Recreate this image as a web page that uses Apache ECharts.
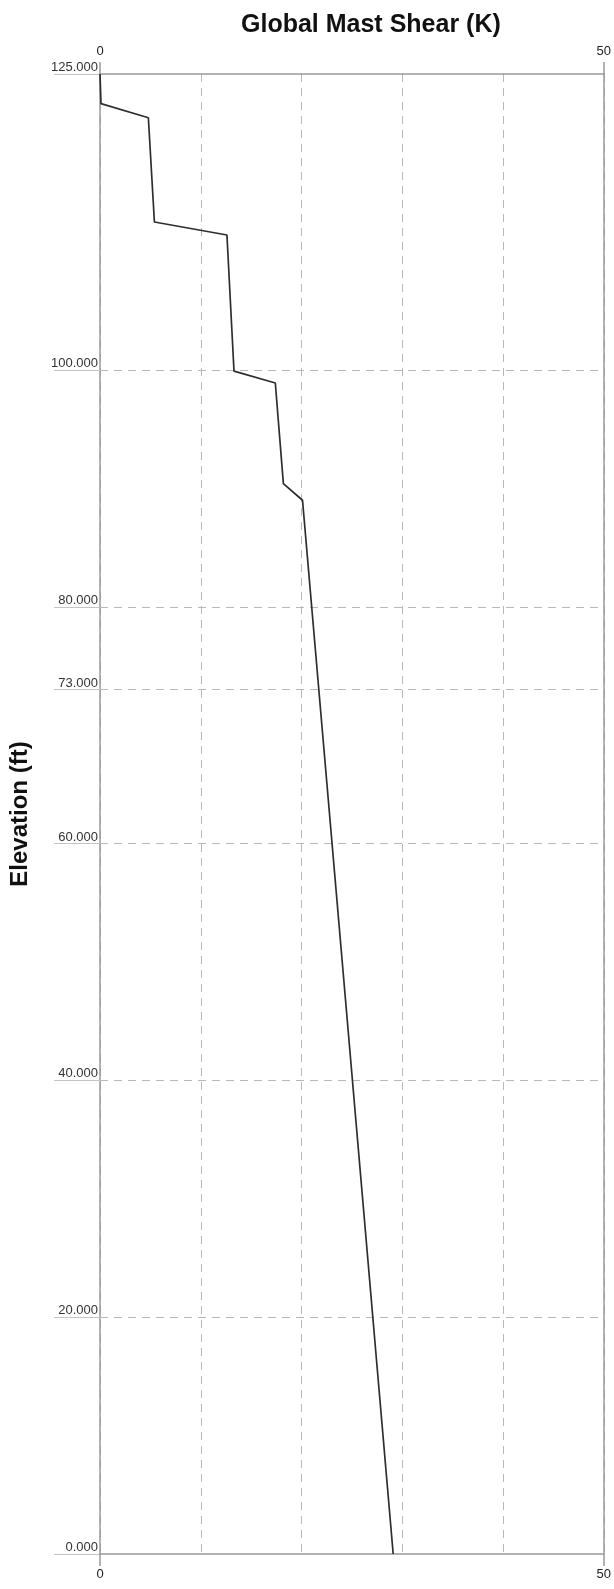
<!DOCTYPE html>
<html>
<head>
<meta charset="utf-8">
<script src="https://cdn.jsdelivr.net/npm/echarts@6/dist/echarts.min.js"></script>
<style>
html,body{margin:0;padding:0;background:#fff;}
#chart{width:614px;height:1589px;}
</style>
</head>
<body>
<div id="chart"></div>
<script>
// Data
const shearK = [0, 0.1, 4.8, 5.4, 12.6, 13.3, 17.4, 18.2, 20.1, 29.1];
const elevationFt = [125, 122.5, 121.3, 112.5, 111.4, 99.9, 98.9, 90.4, 89.0, 0];
const elevationTicks = [0, 20, 40, 60, 73, 80, 100, 125];
const elevationGrid = [20, 40, 60, 73, 80, 100];
const shearTicks = [0, 50];

const FONT = "'Liberation Sans', Arial, sans-serif";
const axisGray = '#9a9a9a';
const gridGray = '#b8b8b8';

const chart = echarts.init(document.getElementById('chart'), null, {renderer: 'canvas'});
chart.setOption({
  animation: false,
  backgroundColor: '#ffffff',
  textStyle: {fontFamily: FONT},
  title: {
    text: 'Global Mast Shear (K)',
    left: 236, top: 8,
    textStyle: {fontSize: 25, fontWeight: 'bold', color: '#111', fontFamily: FONT}
  },
  grid: {left: 98, right: 7, top: 74, bottom: 35},
  xAxis: [
    {
      type: 'value', position: 'bottom', min: 0, max: 50, interval: 50,
      axisLine: {show: true, onZero: false, lineStyle: {color: axisGray, width: 1.5}},
      axisTick: {show: true, length: 12, lineStyle: {color: axisGray, width: 1.5}},
      axisLabel: {margin: 14, fontSize: 13, color: '#222', fontFamily: FONT},
      splitLine: {show: false}
    },
    {
      type: 'value', position: 'top', min: 0, max: 50, interval: 50,
      axisLine: {show: true, onZero: false, lineStyle: {color: axisGray, width: 1.5}},
      axisTick: {show: true, length: 12, lineStyle: {color: axisGray, width: 1.5}},
      axisLabel: {margin: 16, fontSize: 13, color: '#222', fontFamily: FONT},
      splitLine: {show: false}
    },
    {
      // helper axis for the dashed vertical grid every 10 K
      type: 'value', position: 'bottom', min: 0, max: 50, interval: 10,
      axisLine: {show: false}, axisTick: {show: false}, axisLabel: {show: false},
      splitLine: {show: true, lineStyle: {type: [8, 6], color: gridGray, width: 1}}
    }
  ],
  yAxis: [
    {
      type: 'value', position: 'left', min: 0, max: 125,
      name: 'Elevation (ft)', nameLocation: 'middle', nameGap: 68,
      nameTextStyle: {fontSize: 24, fontWeight: 'bold', color: '#111', fontFamily: FONT},
      axisLine: {show: true, onZero: false, lineStyle: {color: axisGray, width: 1.5}},
      axisTick: {show: true, customValues: elevationTicks, length: 46, lineStyle: {color: '#c4c4c4', width: 1}},
      axisLabel: {
        customValues: elevationTicks, margin: 2, verticalAlign: 'bottom',
        fontSize: 13, color: '#333', fontFamily: FONT,
        formatter: v => Number(v).toFixed(3)
      },
      splitLine: {show: false}
    },
    {
      type: 'value', position: 'right', min: 0, max: 125,
      axisLine: {show: true, onZero: false, lineStyle: {color: axisGray, width: 1.5}},
      axisTick: {show: false}, axisLabel: {show: false}, splitLine: {show: false}
    }
  ],
  series: [
    {
      type: 'line', xAxisIndex: 0, yAxisIndex: 0,
      data: shearK.map((x, i) => [x, elevationFt[i]]),
      symbol: 'none', z: 5,
      lineStyle: {color: '#2e2e2e', width: 1.7},
      markLine: {
        silent: true, symbol: 'none', z: 1,
        label: {show: false},
        lineStyle: {type: [8, 6], color: gridGray, width: 1},
        data: elevationGrid.map(v => ({yAxis: v}))
      }
    }
  ]
});
</script>
</body>
</html>
